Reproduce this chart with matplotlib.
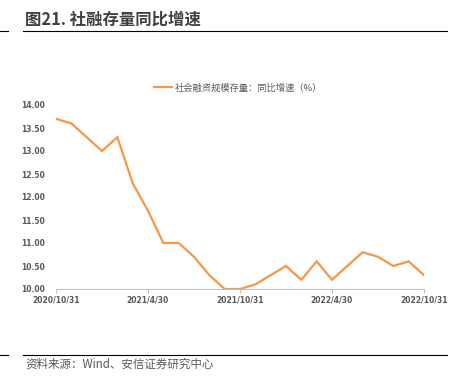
import matplotlib
matplotlib.use("Agg")
import matplotlib.pyplot as plt
from matplotlib.lines import Line2D

plt.rcParams['font.family'] = ['Noto Sans CJK SC', 'DejaVu Sans']

months = ["2020/10/31", "2020/11/30", "2020/12/31", "2021/1/31", "2021/2/28", "2021/3/31",
          "2021/4/30", "2021/5/31", "2021/6/30", "2021/7/31", "2021/8/31", "2021/9/30",
          "2021/10/31", "2021/11/30", "2021/12/31", "2022/1/31", "2022/2/28", "2022/3/31",
          "2022/4/30", "2022/5/31", "2022/6/30", "2022/7/31", "2022/8/31", "2022/9/30",
          "2022/10/31"]
values = [13.7, 13.6, 13.3, 13.0, 13.3, 12.3, 11.7, 11.0, 11.0, 10.7, 10.3, 10.0,
          10.0, 10.1, 10.3, 10.5, 10.2, 10.6, 10.2, 10.5, 10.8, 10.7, 10.5, 10.6, 10.3]
xtick_labels = ["2020/10/31", "2021/4/30", "2021/10/31", "2022/4/30", "2022/10/31"]
yticks = [10.0, 10.5, 11.0, 11.5, 12.0, 12.5, 13.0, 13.5, 14.0]
series_name = "社会融资规模存量：同比增速（%）"
title = "图21. 社融存量同比增速"
source = "资料来源：Wind、安信证券研究中心"

W, H = 460, 389
fig = plt.figure(figsize=(W / 100, H / 100), dpi=100)

ax = fig.add_axes([56 / W, 1 - 289 / H, (424 - 56) / W, (289 - 105) / H])
x = list(range(len(months)))
line, = ax.plot(x, values, color="#F79646", lw=1.6, solid_joinstyle="miter")
ax.set_xlim(0, len(months) - 1)
ax.set_ylim(10, 14)
ax.set_yticks(yticks)
ax.set_yticklabels([f"{v:.2f}" for v in yticks], fontsize=5.5, color="#595959",
                   fontweight="bold", family="DejaVu Sans")
xt = [months.index(l) for l in xtick_labels]
ax.set_xticks(xt)
ax.set_xticklabels(xtick_labels, fontsize=5.5, color="#595959", fontweight="bold",
                   family="DejaVu Sans")
for s in ["top", "right", "left"]:
    ax.spines[s].set_visible(False)
ax.spines["bottom"].set_color("#BFBFBF")
ax.spines["bottom"].set_linewidth(0.8)
ax.tick_params(axis="y", length=0, pad=8)
ax.tick_params(axis="x", length=3, color="#BFBFBF", width=0.8, pad=2)

fig.legend([line], [series_name], loc="center left", bbox_to_anchor=(154 / W, 1 - 88 / H),
           frameon=False, fontsize=6.7, handlelength=1.9, handletextpad=0.35,
           labelcolor="#595959", borderaxespad=0, borderpad=0)

fig.text(25 / W, 1 - 20 / H, title, fontsize=11.8, fontweight="bold", color="#404040",
         va="center", ha="left")
for yy in (31, 355):
    fig.add_artist(Line2D([0, 8 / W], [1 - yy / H] * 2, color="black", lw=0.8))
    fig.add_artist(Line2D([23 / W, 447 / W], [1 - yy / H] * 2, color="black", lw=0.8))
fig.text(25 / W, 1 - 364 / H, source, fontsize=8.3, color="#595959", style="italic",
         va="center", ha="left")

fig.savefig("out.png", dpi=100)
